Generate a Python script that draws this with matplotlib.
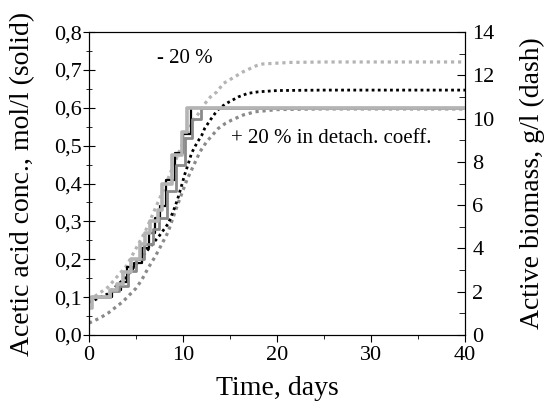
import matplotlib
matplotlib.use("Agg")
import matplotlib.pyplot as plt
from matplotlib.ticker import MultipleLocator, FuncFormatter

# ---- data ----
# acetic acid (solid, left axis) step curves
t_acid_light = [0, 0.3, 2.2, 3.0, 3.6, 4.5, 5.4, 6.0, 6.5, 7.3, 7.8, 8.8, 9.9, 10.4, 40]
c_acid_light = [0.07, 0.10, 0.12, 0.135, 0.165, 0.20, 0.24, 0.27, 0.30, 0.33, 0.40, 0.475, 0.535, 0.60, 0.60]
t_acid_black = [0, 2.4, 3.4, 4.0, 4.8, 5.6, 6.4, 7.0, 7.6, 8.2, 9.1, 10.0, 10.8, 40]
c_acid_black = [0.10, 0.12, 0.14, 0.18, 0.19, 0.23, 0.27, 0.31, 0.34, 0.41, 0.48, 0.53, 0.60, 0.60]
t_acid_mid = [0, 2.2, 3.2, 4.2, 5.0, 5.8, 6.8, 7.4, 8.3, 9.3, 10.2, 11.0, 11.9, 40]
c_acid_mid = [0.10, 0.115, 0.13, 0.17, 0.20, 0.24, 0.28, 0.31, 0.38, 0.45, 0.52, 0.57, 0.60, 0.60]

# active biomass (dashed, right axis)
t_bio_light = [0, 2, 4, 6, 8, 10, 11.1, 11.8, 12.2, 12.9, 13.6, 14.3, 15.2, 16.4, 17.8, 18.5, 21.4, 25, 40]
b_bio_light = [1.6, 2.2, 3.2, 4.8, 6.8, 8.9, 9.94, 10.32, 10.63, 11.0, 11.24, 11.63, 11.86, 12.17, 12.45, 12.53, 12.6, 12.62, 12.62]
t_bio_black = [0, 2, 4, 6, 7.5, 8.44, 8.8, 9.15, 9.5, 9.86, 10.2, 10.57, 10.9, 11.45, 12.0, 12.3, 12.9, 13.4, 13.9, 14.8, 15.9, 16.9, 18, 20, 25, 40]
b_bio_black = [1.5, 1.9, 2.7, 3.8, 4.6, 5.16, 5.55, 5.93, 6.39, 6.93, 7.45, 7.93, 8.4, 8.86, 9.24, 9.55, 9.94, 10.24, 10.5, 10.75, 11.01, 11.17, 11.24, 11.3, 11.32, 11.32]
t_bio_mid = [0, 1.1, 2.0, 3.6, 4.3, 5.0, 5.6, 6.3, 7.0, 7.5, 8.4, 9.4, 10.4, 11.3, 11.8, 12.5, 13.75, 14.5, 15.2, 16.4, 17.7, 20, 25, 40]
b_bio_mid = [0.55, 0.77, 1.0, 1.54, 1.85, 2.16, 2.54, 3.1, 3.6, 4.0, 4.75, 6.0, 7.16, 8.0, 8.47, 8.93, 9.55, 9.78, 9.94, 10.17, 10.32, 10.42, 10.45, 10.45]

x_ticks = [0, 10, 20, 30, 40]
left_ticks = [0.0, 0.1, 0.2, 0.3, 0.4, 0.5, 0.6, 0.7, 0.8]
right_ticks = [0, 2, 4, 6, 8, 10, 12, 14]

plt.rcParams['font.family'] = ['Liberation Serif', 'DejaVu Serif']

fig = plt.figure(figsize=(5.46, 4.12), dpi=100)
ax1 = fig.add_axes([0.163, 0.187, 0.689, 0.735])
ax2 = ax1.twinx()

light = '#b4b4b4'
mid = '#8a8a8a'

# biomass dotted curves (right axis)
dot = (0, (1.0, 1.2))
ax2.plot(t_bio_light, b_bio_light, color=light, lw=2.3, linestyle=dot)
ax2.plot(t_bio_mid, b_bio_mid, color=mid, lw=2.3, linestyle=dot)
ax2.plot(t_bio_black, b_bio_black, color='black', lw=2.0, linestyle=dot)

# acetic acid steps (left axis)
ax1.step(t_acid_black, c_acid_black, where='post', color='black', lw=1.6)
ax1.step(t_acid_mid, c_acid_mid, where='post', color=mid, lw=2.0)
ax1.step(t_acid_light, c_acid_light, where='post', color=light, lw=2.6)

ax1.set_zorder(ax2.get_zorder() + 1)
ax1.patch.set_visible(False)

ax1.set_xlim(0, 40)
ax1.set_ylim(0, 0.8)
ax2.set_ylim(0, 14)

ax1.set_xticks(x_ticks)
ax1.xaxis.set_minor_locator(MultipleLocator(5))
ax1.set_yticks(left_ticks)
ax1.yaxis.set_minor_locator(MultipleLocator(0.05))
ax1.yaxis.set_major_formatter(FuncFormatter(lambda v, p: f"{v:.1f}".replace('.', ',')))
ax2.set_yticks(right_ticks)
ax2.yaxis.set_minor_locator(MultipleLocator(1))

ax1.tick_params(axis='x', which='major', direction='out', length=5, labelsize=16, pad=3)
ax1.tick_params(axis='x', which='minor', direction='out', length=3)
ax1.tick_params(axis='y', which='major', direction='inout', length=8, labelsize=16, pad=1)
ax1.tick_params(axis='y', which='minor', direction='inout', length=5)
ax2.tick_params(axis='y', which='major', direction='in', length=6, labelsize=16, pad=5)
ax2.tick_params(axis='y', which='minor', direction='in', length=4)

ax1.set_xlabel('Time, days', fontsize=20, labelpad=8)
ax1.set_ylabel('Acetic acid conc., mol/l (solid)', fontsize=20, labelpad=14)
ax2.set_ylabel('Active biomass, g/l (dash)', fontsize=20, labelpad=18)

ax1.text(7.2, 0.73, '- 20 %', fontsize=15, va='center', ha='left')
ax1.text(15.1, 0.52, '+ 20 % in detach. coeff.', fontsize=15, va='center', ha='left')

fig.savefig('out.png', dpi=100)
